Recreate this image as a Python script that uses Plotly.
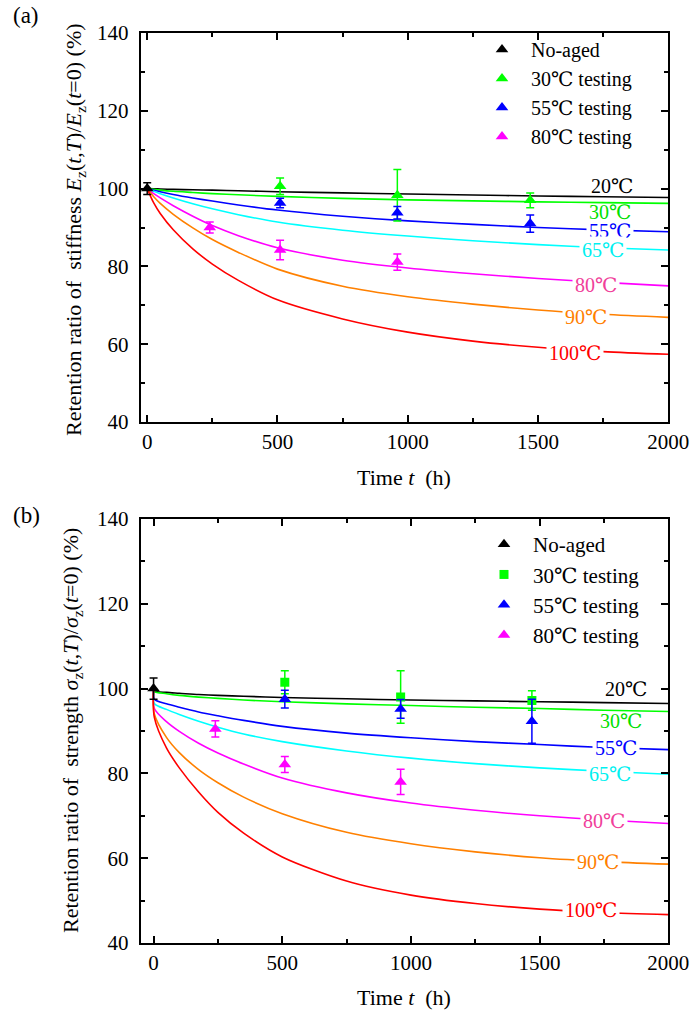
import plotly.graph_objects as go

FONT = "Liberation Serif, DejaVu Serif, serif"

# ---------------- data ----------------
# Panel (a): stiffness retention model curves (%)
t_curve_a = [0, 25, 50, 100, 175, 250, 350, 500, 750, 1000, 1250, 1500, 1750, 2000]
stiff_20 = [100, 99.95, 99.9, 99.8, 99.7, 99.6, 99.45, 99.2, 98.9, 98.6, 98.35, 98.1, 97.9, 97.7]
stiff_30 = [100, 99.8, 99.6, 99.3, 99.0, 98.7, 98.4, 98.0, 97.5, 97.1, 96.85, 96.6, 96.4, 96.2]
stiff_55 = [100, 99.6, 99.2, 98.5, 97.6, 96.8, 95.8, 94.5, 92.9, 91.7, 90.8, 90.0, 89.4, 88.9]
stiff_65 = [100, 99.3, 98.7, 97.6, 96.1, 94.8, 93.3, 91.4, 89.3, 87.8, 86.6, 85.6, 84.8, 84.2]
stiff_80 = [100, 98.7, 97.6, 95.6, 92.9, 90.5, 87.9, 84.8, 81.6, 79.6, 78.1, 76.9, 75.9, 75.0]
stiff_90 = [100, 97.9, 96.2, 93.4, 89.9, 86.9, 83.6, 79.3, 74.9, 72.2, 70.3, 68.8, 67.7, 66.9]
stiff_100 = [100, 96.3, 93.6, 89.4, 84.5, 80.6, 76.4, 71.4, 66.5, 63.1, 60.8, 59.2, 58.1, 57.4]

# Panel (b): strength retention model curves (%)
t_curve_b = [0, 3, 50, 100, 175, 250, 350, 500, 750, 1000, 1250, 1500, 1750, 2000]
str_20 = [100, 99.4, 99.1, 98.9, 98.6, 98.4, 98.2, 97.9, 97.6, 97.3, 97.1, 96.9, 96.7, 96.5]
str_30 = [100, 99.3, 98.8, 98.4, 98.0, 97.7, 97.3, 96.9, 96.4, 96.0, 95.6, 95.3, 94.9, 94.6]
str_55 = [100, 97.5, 96.4, 95.6, 94.5, 93.6, 92.5, 91.1, 89.5, 88.4, 87.5, 86.8, 86.1, 85.6]
str_65 = [100, 96.5, 95.1, 93.9, 92.3, 90.9, 89.3, 87.5, 85.3, 83.6, 82.3, 81.3, 80.5, 79.8]
str_80 = [100, 95.3, 92.2, 89.9, 87.1, 84.8, 82.2, 78.9, 75.4, 73.0, 71.3, 70.0, 69.0, 68.2]
str_90 = [100, 94.0, 88.5, 84.9, 80.9, 77.8, 74.4, 70.5, 66.1, 63.4, 61.5, 60.1, 59.2, 58.6]
str_100 = [100, 93.2, 86.0, 81.3, 75.6, 70.8, 65.9, 60.3, 54.6, 51.3, 49.3, 48.0, 47.2, 46.7]

curve_names = ["20℃", "30℃", "55℃", "65℃", "80℃", "90℃", "100℃"]

# Test data (time in h)
t_noaged = [0]
t_test_30 = [510, 960, 1470]
t_test_55 = [510, 960, 1470]
t_test_80 = [240, 510, 960]

noaged_a, noaged_a_err = [100.0], [1.5]
test30_a, test30_a_err = [100.6, 98.3, 97.0], [2.1, 6.6, 1.9]
test55_a, test55_a_err = [96.3, 93.8, 91.0], [1.2, 1.6, 2.2]
test80_a, test80_a_err = [90.0, 84.2, 81.1], [1.4, 2.5, 2.1]

noaged_b, noaged_b_err = [100.0], [2.5]
test30_b, test30_b_err = [101.5, 98.0, 97.2], [2.7, 6.2, 2.3]
test55_b, test55_b_err = [97.5, 95.2, 92.3], [2.1, 2.2, 5.2]
test80_b, test80_b_err = [90.5, 82.1, 78.0], [1.9, 1.9, 3.0]

legend_names = ["No-aged", "30℃ testing", "55℃ testing", "80℃ testing"]

# label anchor positions (t, value) for curve labels
label_pos_a = [(1784, 100.6), (1777, 93.9), (1777, 89.1), (1750, 84.2), (1723, 75.1), (1685, 66.9), (1640, 57.8)]
label_pos_b = [(1835, 100.0), (1815, 92.4), (1795, 86.0), (1774, 79.9), (1749, 68.7), (1726, 59.2), (1699, 47.8)]

# ---------------- styling ----------------
COLORS = ["#000000", "#00ff00", "#0000ff", "#00ffff", "#ff00ff", "#ff8000", "#ff0000"]
LABEL_COLORS = ["#000000", "#00e000", "#0000ff", "#00f0f0", "#f0409a", "#ff8000", "#ff0000"]
LABEL_BG = [False, False, True, True, True, True, True]

fig = go.Figure()

def add_curves(tvals, series, xa, ya):
    for ys, c in zip(series, COLORS):
        fig.add_trace(go.Scatter(x=tvals, y=ys, mode="lines",
                                 line=dict(color=c, width=1.6, shape="spline", smoothing=0.8),
                                 xaxis=xa, yaxis=ya, showlegend=False, hoverinfo="skip"))

add_curves(t_curve_a, [stiff_20, stiff_30, stiff_55, stiff_65, stiff_80, stiff_90, stiff_100], "x", "y")
add_curves(t_curve_b, [str_20, str_30, str_55, str_65, str_80, str_90, str_100], "x2", "y2")

def add_points(tv, yv, ev, color, symbol, size, xa, ya):
    fig.add_trace(go.Scatter(x=tv, y=yv, mode="markers",
                             marker=dict(color=color, symbol=symbol, size=size, line=dict(width=0)),
                             error_y=dict(type="data", array=ev, visible=True, color=color,
                                          thickness=1.5, width=4),
                             xaxis=xa, yaxis=ya, showlegend=False))

# panel a points
add_points(t_noaged, noaged_a, noaged_a_err, "#000000", "triangle-up", 11, "x", "y")
add_points(t_test_30, test30_a, test30_a_err, "#00ff00", "triangle-up", 11, "x", "y")
add_points(t_test_55, test55_a, test55_a_err, "#0000ff", "triangle-up", 11, "x", "y")
add_points(t_test_80, test80_a, test80_a_err, "#ff00ff", "triangle-up", 11, "x", "y")
# panel b points
add_points(t_noaged, noaged_b, noaged_b_err, "#000000", "triangle-up", 11, "x2", "y2")
add_points(t_test_30, test30_b, test30_b_err, "#00ff00", "square", 9, "x2", "y2")
add_points(t_test_55, test55_b, test55_b_err, "#0000ff", "triangle-up", 11, "x2", "y2")
add_points(t_test_80, test80_b, test80_b_err, "#ff00ff", "triangle-up", 11, "x2", "y2")

# legend entries
leg_colors = ["#000000", "#00ff00", "#0000ff", "#ff00ff"]
symbols_a = ["triangle-up"] * 4
symbols_b = ["triangle-up", "square", "triangle-up", "triangle-up"]
for i, (nm, c) in enumerate(zip(legend_names, leg_colors)):
    fig.add_trace(go.Scatter(x=[None], y=[None], mode="markers", name=nm,
                             marker=dict(color=c, symbol=symbols_a[i], size=11),
                             legend="legend", legendgroup="a%d" % i, xaxis="x", yaxis="y"))
    fig.add_trace(go.Scatter(x=[None], y=[None], mode="markers", name=nm,
                             marker=dict(color=c, symbol=symbols_b[i], size=11 if symbols_b[i] != "square" else 9),
                             legend="legend2", legendgroup="b%d" % i, xaxis="x2", yaxis="y2"))

W, H = 692, 1020
def px_x(p):
    return p / W
def px_y(p):
    return 1 - p / H

x_dom = [px_x(140.7), px_x(668.3)]
ya_dom = [px_y(422), px_y(33)]
yb_dom = [px_y(943), px_y(519)]

tickfont = dict(family=FONT, size=21, color="black")
axis_common = dict(showline=True, linecolor="black", linewidth=2, mirror="allticks",
                   ticks="inside", ticklen=7, tickwidth=1.5, tickcolor="black",
                   showgrid=False, zeroline=False, tickfont=tickfont, automargin=False)

def xaxis_cfg(rng, anchor):
    d = dict(axis_common)
    d.update(domain=x_dom, range=rng, tick0=0, dtick=500, anchor=anchor,
             minor=dict(dtick=250, ticks="inside", ticklen=4, tickwidth=1.5, tickcolor="black"))
    return d

def yaxis_cfg(dom, anchor):
    d = dict(axis_common)
    d.update(domain=dom, range=[40, 140], tick0=40, dtick=20, anchor=anchor,
             ticklabelstandoff=6,
             minor=dict(dtick=10, ticks="inside", ticklen=4, tickwidth=1.5, tickcolor="black"))
    return d

annotations = []
def add_labels(positions, xr, yr, with_bg):
    for (tx, ty), txt, col, bg in zip(positions, curve_names, LABEL_COLORS, LABEL_BG):
        if bg != with_bg:
            continue
        a = dict(x=tx, y=ty, xref=xr, yref=yr, text=txt, showarrow=False,
                 font=dict(family=FONT, size=20, color=col), xanchor="center", yanchor="middle")
        if bg:
            a.update(bgcolor="white", borderpad=2)
        annotations.append(a)

# labels that break the lines first, free-standing labels on top
add_labels(label_pos_a, "x", "y", True)
add_labels(label_pos_b, "x2", "y2", True)
add_labels(label_pos_a, "x", "y", False)
add_labels(label_pos_b, "x2", "y2", False)

titlefont = dict(family=FONT, size=22, color="black")
def paper_text(xp, yp, text, font, angle=0):
    return dict(x=px_x(xp), y=px_y(yp), xref="paper", yref="paper", text=text, showarrow=False,
                font=font, textangle=angle, xanchor="center", yanchor="middle")

annotations += [
    paper_text(26, 16, "(a)", dict(family=FONT, size=23, color="black")),
    paper_text(26, 515, "(b)", dict(family=FONT, size=23, color="black")),
    paper_text(404, 477, "Time <i>t</i>\u00a0\u00a0(h)", titlefont),
    paper_text(404, 997, "Time <i>t</i>\u00a0\u00a0(h)", titlefont),
    paper_text(75, 230,
               "Retention ratio of\u00a0\u00a0stiffness <i>E</i><sub>z</sub>(<i>t</i>,<i>T</i>)/<i>E</i><sub>z</sub>(<i>t</i>=0) (%)",
               titlefont, -90),
    paper_text(72, 731,
               "Retention ratio of\u00a0\u00a0strength <i>σ</i><sub>z</sub>(<i>t</i>,<i>T</i>)/<i>σ</i><sub>z</sub>(<i>t</i>=0) (%)",
               titlefont, -90),
]

fig.update_layout(
    width=W, height=H,
    margin=dict(l=0, r=0, t=0, b=0, autoexpand=False),
    paper_bgcolor="white", plot_bgcolor="white",
    xaxis=xaxis_cfg([-25, 2000], "y"),
    yaxis=yaxis_cfg(ya_dom, "x"),
    xaxis2=xaxis_cfg([-50, 2000], "y2"),
    yaxis2=yaxis_cfg(yb_dom, "x2"),
    legend=dict(x=px_x(473), y=px_y(30), xanchor="left", yanchor="top",
                font=dict(family=FONT, size=20, color="black"),
                bgcolor="rgba(0,0,0,0)", tracegroupgap=0, itemwidth=48),
    legend2=dict(x=px_x(475), y=px_y(524), xanchor="left", yanchor="top",
                 font=dict(family=FONT, size=21, color="black"),
                 bgcolor="rgba(0,0,0,0)", tracegroupgap=0, itemwidth=48),
    annotations=annotations,
    showlegend=True,
)

fig.write_html("out.html",
               config={"displayModeBar": False},
               post_script="document.body.style.margin='0';document.body.style.padding='0';"
                           "document.documentElement.style.overflow='hidden';")
